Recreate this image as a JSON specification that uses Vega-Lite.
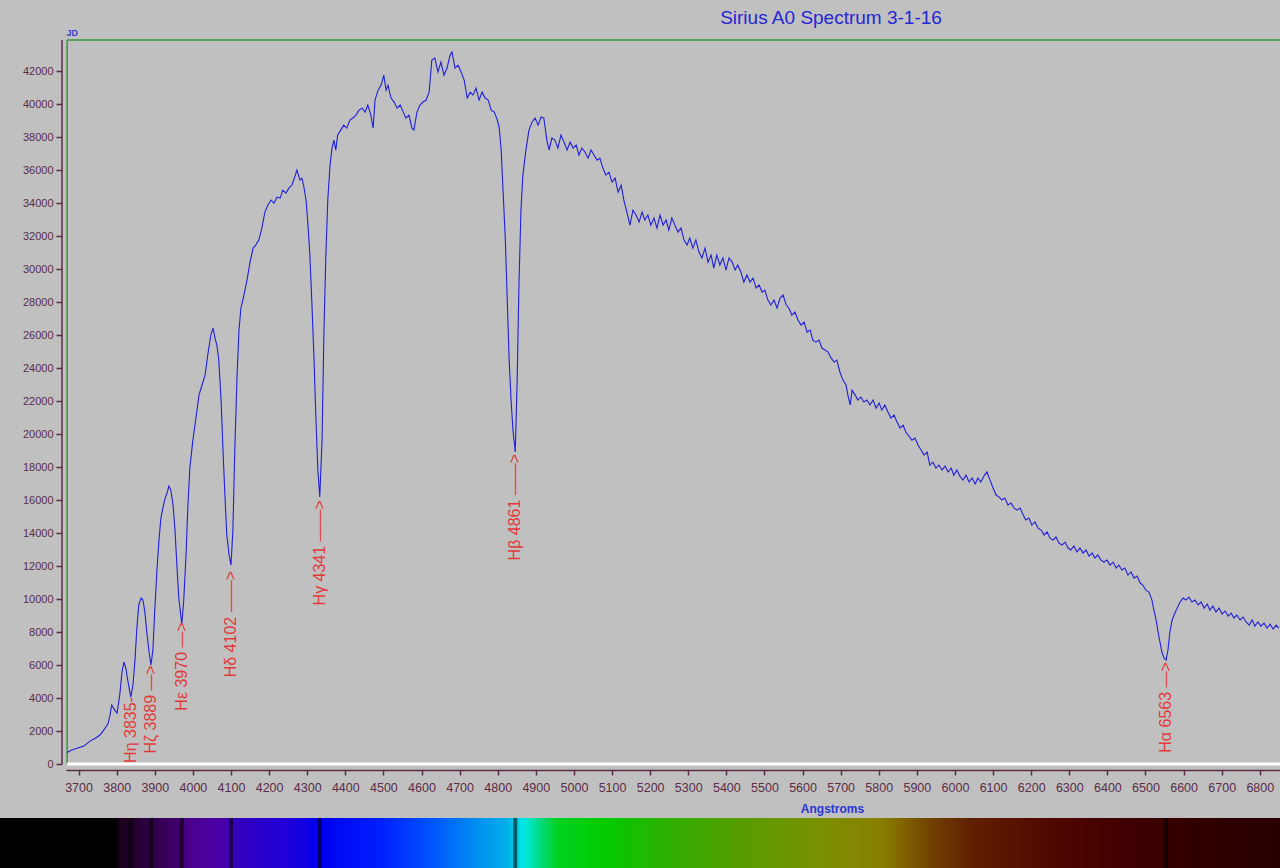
{
"$schema": "https://vega.github.io/schema/vega-lite/v6.json",
"autosize": "none",
"width": 1214,
"height": 828,
"padding": {"left": 66, "top": 40, "right": 0, "bottom": 0},
"background": "#c0c0c0",
"config": {"view": {"stroke": null}},
"title": {"text": "Sirius A0 Spectrum 3-1-16", "anchor": "middle", "dx": 158, "fontSize": 19, "font": "Liberation Sans", "fontWeight": "normal", "color": "#2626d6", "offset": 1},
"datasets": {
"spec": [
{"w":3669,"f":700},{"w":3682,"f":850},{"w":3698,"f":970},{"w":3714,"f":1090},{"w":3730,"f":1390},{"w":3745,"f":1580},{"w":3756,"f":1760},{"w":3766,"f":2060},{"w":3777,"f":2420},{"w":3782,"f":2900},{"w":3787,"f":3580},{"w":3795,"f":3270},{"w":3801,"f":3090},{"w":3808,"f":4180},{"w":3814,"f":5580},{"w":3819,"f":6180},{"w":3824,"f":5820},{"w":3829,"f":5090},{"w":3837,"f":4060},{"w":3843,"f":4850},{"w":3848,"f":6300},{"w":3853,"f":8240},{"w":3858,"f":9640},{"w":3864,"f":10060},{"w":3869,"f":9940},{"w":3874,"f":9210},{"w":3879,"f":8000},{"w":3885,"f":6790},{"w":3890,"f":6000},{"w":3895,"f":6900},{"w":3900,"f":9330},{"w":3906,"f":11880},{"w":3911,"f":13570},{"w":3916,"f":14900},{"w":3921,"f":15500},{"w":3927,"f":16100},{"w":3932,"f":16400},{"w":3937,"f":16850},{"w":3942,"f":16600},{"w":3948,"f":15700},{"w":3953,"f":14180},{"w":3958,"f":12060},{"w":3963,"f":10060},{"w":3969,"f":8850},{"w":3971,"f":8480},{"w":3976,"f":9940},{"w":3982,"f":12660},{"w":3987,"f":15700},{"w":3992,"f":17940},{"w":4000,"f":19630},{"w":4008,"f":20970},{"w":4016,"f":22360},{"w":4024,"f":22970},{"w":4032,"f":23570},{"w":4039,"f":24790},{"w":4047,"f":26000},{"w":4053,"f":26420},{"w":4058,"f":25800},{"w":4063,"f":25390},{"w":4068,"f":24480},{"w":4074,"f":22060},{"w":4079,"f":19030},{"w":4084,"f":16300},{"w":4089,"f":13880},{"w":4095,"f":12670},{"w":4100,"f":12060},{"w":4105,"f":14180},{"w":4110,"f":19030},{"w":4116,"f":23570},{"w":4121,"f":26300},{"w":4126,"f":27630},{"w":4134,"f":28420},{"w":4142,"f":29330},{"w":4150,"f":30420},{"w":4158,"f":31270},{"w":4165,"f":31450},{"w":4173,"f":31750},{"w":4181,"f":32480},{"w":4189,"f":33450},{"w":4197,"f":33880},{"w":4205,"f":34180},{"w":4213,"f":34000},{"w":4221,"f":34360},{"w":4229,"f":34300},{"w":4236,"f":34780},{"w":4244,"f":34600},{"w":4252,"f":34900},{"w":4260,"f":35090},{"w":4268,"f":35630},{"w":4273,"f":36000},{"w":4281,"f":35390},{"w":4286,"f":35500},{"w":4291,"f":35030},{"w":4297,"f":34180},{"w":4302,"f":32660},{"w":4307,"f":30850},{"w":4312,"f":28120},{"w":4318,"f":24480},{"w":4323,"f":20850},{"w":4328,"f":17820},{"w":4333,"f":16180},{"w":4339,"f":19630},{"w":4344,"f":26300},{"w":4349,"f":30850},{"w":4354,"f":34180},{"w":4360,"f":36300},{"w":4365,"f":37330},{"w":4370,"f":37810},{"w":4375,"f":37210},{"w":4380,"f":38120},{"w":4388,"f":38420},{"w":4396,"f":38720},{"w":4404,"f":38540},{"w":4412,"f":39030},{"w":4420,"f":39150},{"w":4428,"f":39330},{"w":4436,"f":39630},{"w":4444,"f":39750},{"w":4452,"f":39510},{"w":4459,"f":39940},{"w":4467,"f":39330},{"w":4473,"f":38540},{"w":4478,"f":40240},{"w":4486,"f":40840},{"w":4494,"f":41150},{"w":4501,"f":41750},{"w":4507,"f":40840},{"w":4512,"f":41150},{"w":4520,"f":40360},{"w":4528,"f":40120},{"w":4536,"f":39750},{"w":4544,"f":39940},{"w":4552,"f":39510},{"w":4559,"f":39150},{"w":4567,"f":39330},{"w":4575,"f":38540},{"w":4580,"f":38420},{"w":4588,"f":39510},{"w":4596,"f":39940},{"w":4604,"f":40120},{"w":4612,"f":40240},{"w":4620,"f":40720},{"w":4627,"f":42660},{"w":4635,"f":42780},{"w":4643,"f":41930},{"w":4651,"f":42540},{"w":4659,"f":41750},{"w":4667,"f":42180},{"w":4675,"f":42970},{"w":4680,"f":43150},{"w":4688,"f":42180},{"w":4696,"f":42360},{"w":4704,"f":41930},{"w":4712,"f":41450},{"w":4720,"f":40360},{"w":4728,"f":40720},{"w":4735,"f":40540},{"w":4743,"f":40960},{"w":4751,"f":40240},{"w":4759,"f":40720},{"w":4767,"f":40360},{"w":4775,"f":40240},{"w":4783,"f":39630},{"w":4791,"f":39510},{"w":4799,"f":39030},{"w":4804,"f":38540},{"w":4809,"f":37210},{"w":4814,"f":34780},{"w":4820,"f":31750},{"w":4825,"f":28120},{"w":4830,"f":24480},{"w":4835,"f":22060},{"w":4840,"f":20240},{"w":4846,"f":18910},{"w":4851,"f":23270},{"w":4856,"f":29330},{"w":4861,"f":33570},{"w":4866,"f":35690},{"w":4874,"f":37210},{"w":4882,"f":38420},{"w":4890,"f":38900},{"w":4898,"f":39150},{"w":4906,"f":38720},{"w":4914,"f":39210},{"w":4921,"f":39150},{"w":4929,"f":37810},{"w":4935,"f":37210},{"w":4942,"f":37940},{"w":4950,"f":37810},{"w":4958,"f":37330},{"w":4966,"f":38120},{"w":4974,"f":37690},{"w":4982,"f":37210},{"w":4990,"f":37690},{"w":4998,"f":37330},{"w":5006,"f":37510},{"w":5013,"f":36900},{"w":5021,"f":37330},{"w":5029,"f":37090},{"w":5037,"f":36720},{"w":5045,"f":37210},{"w":5053,"f":36900},{"w":5061,"f":36600},{"w":5068,"f":36720},{"w":5076,"f":36120},{"w":5084,"f":35690},{"w":5092,"f":35870},{"w":5100,"f":35270},{"w":5108,"f":35510},{"w":5116,"f":34660},{"w":5124,"f":35090},{"w":5131,"f":34180},{"w":5139,"f":33450},{"w":5147,"f":32660},{"w":5155,"f":33570},{"w":5163,"f":33270},{"w":5171,"f":32850},{"w":5179,"f":33450},{"w":5186,"f":32970},{"w":5194,"f":33270},{"w":5202,"f":32660},{"w":5210,"f":33090},{"w":5218,"f":32480},{"w":5226,"f":33270},{"w":5234,"f":32660},{"w":5242,"f":32970},{"w":5249,"f":32360},{"w":5257,"f":33090},{"w":5265,"f":32660},{"w":5273,"f":32240},{"w":5281,"f":32480},{"w":5289,"f":31750},{"w":5297,"f":31450},{"w":5304,"f":31880},{"w":5312,"f":31270},{"w":5320,"f":31750},{"w":5328,"f":31030},{"w":5336,"f":30670},{"w":5344,"f":31270},{"w":5352,"f":30420},{"w":5360,"f":30850},{"w":5367,"f":30060},{"w":5375,"f":30850},{"w":5383,"f":30240},{"w":5391,"f":30670},{"w":5399,"f":29940},{"w":5407,"f":30670},{"w":5415,"f":30420},{"w":5423,"f":29940},{"w":5430,"f":30240},{"w":5438,"f":29820},{"w":5446,"f":29210},{"w":5454,"f":29640},{"w":5462,"f":29210},{"w":5470,"f":29450},{"w":5478,"f":28850},{"w":5486,"f":29030},{"w":5494,"f":28600},{"w":5501,"f":28720},{"w":5509,"f":28120},{"w":5517,"f":27820},{"w":5525,"f":28120},{"w":5533,"f":27640},{"w":5541,"f":28240},{"w":5549,"f":28420},{"w":5557,"f":27820},{"w":5564,"f":27640},{"w":5572,"f":27210},{"w":5580,"f":27390},{"w":5588,"f":26910},{"w":5596,"f":26600},{"w":5604,"f":26790},{"w":5612,"f":26180},{"w":5620,"f":26300},{"w":5627,"f":25690},{"w":5635,"f":25570},{"w":5643,"f":25690},{"w":5651,"f":25210},{"w":5659,"f":25090},{"w":5667,"f":24970},{"w":5675,"f":24600},{"w":5683,"f":24360},{"w":5690,"f":24480},{"w":5698,"f":23760},{"w":5706,"f":23270},{"w":5714,"f":22970},{"w":5719,"f":22360},{"w":5725,"f":21760},{"w":5730,"f":22660},{"w":5738,"f":22360},{"w":5745,"f":22060},{"w":5753,"f":22240},{"w":5761,"f":21940},{"w":5769,"f":22060},{"w":5777,"f":21760},{"w":5785,"f":22060},{"w":5793,"f":21570},{"w":5801,"f":21880},{"w":5808,"f":21450},{"w":5816,"f":21760},{"w":5824,"f":21330},{"w":5832,"f":20970},{"w":5840,"f":21150},{"w":5848,"f":20730},{"w":5856,"f":20360},{"w":5864,"f":20540},{"w":5871,"f":20120},{"w":5879,"f":19880},{"w":5887,"f":19630},{"w":5895,"f":19750},{"w":5903,"f":19330},{"w":5911,"f":19030},{"w":5919,"f":18720},{"w":5927,"f":18910},{"w":5934,"f":18120},{"w":5942,"f":18300},{"w":5950,"f":17940},{"w":5958,"f":18120},{"w":5966,"f":17820},{"w":5974,"f":18060},{"w":5982,"f":17700},{"w":5990,"f":17940},{"w":5997,"f":17510},{"w":6005,"f":17820},{"w":6013,"f":17450},{"w":6021,"f":17210},{"w":6029,"f":17510},{"w":6037,"f":17090},{"w":6045,"f":17330},{"w":6053,"f":16970},{"w":6060,"f":17330},{"w":6068,"f":17090},{"w":6076,"f":17450},{"w":6084,"f":17700},{"w":6092,"f":17210},{"w":6100,"f":16730},{"w":6108,"f":16300},{"w":6116,"f":16180},{"w":6123,"f":16000},{"w":6131,"f":16120},{"w":6139,"f":15700},{"w":6147,"f":15820},{"w":6155,"f":15510},{"w":6163,"f":15390},{"w":6171,"f":15510},{"w":6179,"f":15090},{"w":6186,"f":14790},{"w":6194,"f":14910},{"w":6202,"f":14480},{"w":6210,"f":14670},{"w":6218,"f":14300},{"w":6226,"f":14180},{"w":6234,"f":13880},{"w":6242,"f":14060},{"w":6249,"f":13700},{"w":6257,"f":13570},{"w":6265,"f":13760},{"w":6273,"f":13390},{"w":6281,"f":13270},{"w":6289,"f":13450},{"w":6297,"f":13090},{"w":6304,"f":12970},{"w":6312,"f":13210},{"w":6320,"f":12850},{"w":6328,"f":13090},{"w":6336,"f":12790},{"w":6344,"f":12970},{"w":6352,"f":12600},{"w":6360,"f":12790},{"w":6367,"f":12480},{"w":6375,"f":12670},{"w":6383,"f":12360},{"w":6391,"f":12240},{"w":6399,"f":12360},{"w":6407,"f":12060},{"w":6415,"f":12240},{"w":6423,"f":11880},{"w":6430,"f":12060},{"w":6438,"f":11760},{"w":6446,"f":11880},{"w":6454,"f":11450},{"w":6462,"f":11640},{"w":6470,"f":11270},{"w":6478,"f":11390},{"w":6486,"f":10970},{"w":6493,"f":10850},{"w":6501,"f":10540},{"w":6509,"f":10420},{"w":6517,"f":9940},{"w":6522,"f":9330},{"w":6528,"f":8730},{"w":6533,"f":8000},{"w":6538,"f":7390},{"w":6543,"f":6790},{"w":6549,"f":6420},{"w":6554,"f":6300},{"w":6559,"f":6910},{"w":6564,"f":8000},{"w":6570,"f":8730},{"w":6575,"f":9030},{"w":6583,"f":9450},{"w":6591,"f":9820},{"w":6599,"f":10060},{"w":6606,"f":9940},{"w":6614,"f":10120},{"w":6622,"f":9820},{"w":6630,"f":9940},{"w":6638,"f":9640},{"w":6646,"f":9820},{"w":6654,"f":9450},{"w":6662,"f":9700},{"w":6669,"f":9330},{"w":6677,"f":9570},{"w":6685,"f":9210},{"w":6693,"f":9450},{"w":6701,"f":9090},{"w":6709,"f":9270},{"w":6717,"f":8970},{"w":6725,"f":9150},{"w":6732,"f":8850},{"w":6740,"f":9030},{"w":6748,"f":8730},{"w":6756,"f":8910},{"w":6764,"f":8610},{"w":6772,"f":8420},{"w":6780,"f":8730},{"w":6787,"f":8360},{"w":6795,"f":8610},{"w":6803,"f":8360},{"w":6811,"f":8540},{"w":6819,"f":8240},{"w":6827,"f":8480},{"w":6835,"f":8180},{"w":6843,"f":8420},{"w":6850,"f":8240}
],
"lines": [
{"label":"Hη 3835-","w":3837,"f":4060},
{"label":"Hζ 3889 —>","w":3890,"f":6000},
{"label":"Hε 3970 —>","w":3971,"f":8600},
{"label":"Hδ 4102 ——>","w":4100,"f":11700},
{"label":"Hγ 4341 ——>","w":4333,"f":16000},
{"label":"Hβ 4861 ——>","w":4846,"f":18800},
{"label":"Hα 6563 —>","w":6554,"f":6180}
]
},
"encoding": {
"x": {"field": "w", "type": "quantitative", "scale": {"domain": [3667, 6853], "nice": false, "zero": false, "padding": 0},
 "axis": {"values": [3700,3800,3900,4000,4100,4200,4300,4400,4500,4600,4700,4800,4900,5000,5100,5200,5300,5400,5500,5600,5700,5800,5900,6000,6100,6200,6300,6400,6500,6600,6700,6800], "format": "d", "title": "Angstroms", "titleFont": "Liberation Sans", "titleFontSize": 12, "titleFontWeight": "bold", "titleColor": "#2a36d6", "titleX": 766, "titleY": 42, "titleAlign": "center", "titleBaseline": "alphabetic", "labelFont": "Liberation Sans", "labelFontSize": 12.5, "labelColor": "#5c2c48", "domainColor": "#5c2c48", "domainWidth": 1.5, "tickColor": "#5c2c48", "tickWidth": 1.5, "tickSize": 5, "labelPadding": 6, "offset": -98, "grid": false, "labelFlush": false, "labelOverlap": false}},
"y": {"field": "f", "type": "quantitative", "scale": {"domain": [-6300, 43880], "nice": false, "zero": false, "padding": 0},
 "axis": {"values": [0,2000,4000,6000,8000,10000,12000,14000,16000,18000,20000,22000,24000,26000,28000,30000,32000,34000,36000,38000,40000,42000], "format": "d", "title": null, "domain": false, "offset": 4, "tickSize": 6, "tickWidth": 1.5, "tickColor": "#5c2c48", "labelPadding": 3, "labelFont": "Liberation Sans", "labelFontSize": 11, "labelColor": "#5c2c48", "grid": false, "labelOverlap": false}}
},
"layer": [
{
"data": {"values": [{"w": 3300, "w2": 3810, "f": -3270, "f2": -6400}]},
"mark": {"type": "bar", "color": "#000000"},
"encoding": {
"x2": {"field": "w2"},
"y2": {"field": "f2"}
}
},
{
"data": {"name": "spec"},
"mark": {"type": "bar", "orient": "vertical", "width": 5},
"encoding": {
"y": {"datum": -3270, "type": "quantitative", "scale": {"domain": [-6300, 43880], "nice": false, "zero": false, "padding": 0},
 "axis": {"values": [0,2000,4000,6000,8000,10000,12000,14000,16000,18000,20000,22000,24000,26000,28000,30000,32000,34000,36000,38000,40000,42000], "format": "d", "title": null, "domain": false, "offset": 4, "tickSize": 6, "tickWidth": 1.5, "tickColor": "#5c2c48", "labelPadding": 3, "labelFont": "Liberation Sans", "labelFontSize": 11, "labelColor": "#5c2c48", "grid": false, "labelOverlap": false}},
"y2": {"datum": -6400},
"color": {"field": "w", "type": "quantitative", "legend": null, "scale": {"type": "linear", "interpolate": "rgb", "domain": [3660, 3800, 3810, 3870, 3960, 4000, 4080, 4130, 4250, 4340, 4500, 4620, 4750, 4830, 4870, 4900, 4960, 5080, 5250, 5450, 5650, 5810, 5950, 6050, 6250, 6450, 6650, 6860], "range": ["#000000", "#000000", "#1a0018", "#2a0038", "#40006a", "#4c0090", "#4a00a8", "#3000c0", "#2000d8", "#0000f0", "#0020ff", "#0050ff", "#0090f0", "#00b0e8", "#00e8e8", "#00e0a0", "#00d020", "#00cc00", "#30b000", "#5a9c00", "#7a9000", "#8a7e00", "#703c00", "#602000", "#500800", "#400000", "#300000", "#280000"]}}
}
},
{
"data": {"name": "lines"},
"mark": {"type": "rule", "color": "#000000", "strokeWidth": 4, "opacity": 0.55},
"encoding": {
"y": {"datum": -3270, "type": "quantitative", "scale": {"domain": [-6300, 43880], "nice": false, "zero": false, "padding": 0},
 "axis": {"values": [0,2000,4000,6000,8000,10000,12000,14000,16000,18000,20000,22000,24000,26000,28000,30000,32000,34000,36000,38000,40000,42000], "format": "d", "title": null, "domain": false, "offset": 4, "tickSize": 6, "tickWidth": 1.5, "tickColor": "#5c2c48", "labelPadding": 3, "labelFont": "Liberation Sans", "labelFontSize": 11, "labelColor": "#5c2c48", "grid": false, "labelOverlap": false}},
"y2": {"datum": -6400}
}
},
{
"data": {"values": [{"w": 3670, "w2": 6853, "f": 43880}]},
"mark": {"type": "rule", "color": "#3c963c", "strokeWidth": 1.5},
"encoding": {"x2": {"field": "w2"}}
},
{
"data": {"values": [{"w": 3670, "f": 0, "f2": 43880}]},
"mark": {"type": "rule", "color": "#3c963c", "strokeWidth": 1.5},
"encoding": {"y2": {"field": "f2"}}
},
{
"data": {"values": [{"w": 3656.5, "f": 0, "f2": 43880}]},
"mark": {"type": "rule", "color": "#5c2c48", "strokeWidth": 1.5},
"encoding": {"y2": {"field": "f2"}}
},
{
"data": {"values": [{"w": 3670, "w2": 6853, "f": 0}]},
"mark": {"type": "rule", "color": "#ffffff", "strokeWidth": 3},
"encoding": {"x2": {"field": "w2"}}
},
{
"data": {"name": "spec"},
"mark": {"type": "line", "color": "#1f1fdc", "strokeWidth": 1.1},
"encoding": {}
},
{
"data": {"name": "lines"},
"mark": {"type": "text", "angle": 270, "align": "right", "baseline": "middle", "font": "Liberation Sans", "fontSize": 16, "color": "#e23a3a"},
"encoding": {"text": {"field": "label"}}
},
{
"data": {"values": [{"w": 3668, "f": 44300, "t": "JD"}]},
"mark": {"type": "text", "align": "left", "baseline": "middle", "font": "Liberation Sans", "fontSize": 9, "fontWeight": "bold", "color": "#3a3ad0"},
"encoding": {"text": {"field": "t"}}
}
]
}
